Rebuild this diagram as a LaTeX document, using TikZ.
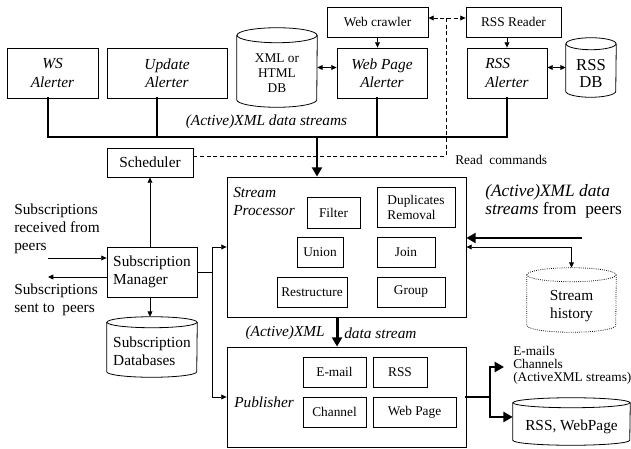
\documentclass[tikz,border=0pt]{standalone}
\usepackage{fontspec}
\setmainfont{Liberation Serif}
\usetikzlibrary{arrows.meta,calc}
\newcommand\fmain{\fontsize{11.5}{13.5}\selectfont}
\newcommand\fsml{\fontsize{10}{11.3}\selectfont}
\newcommand\fbig{\fontsize{13}{13.5}\selectfont}
\newcommand\cylo[4][]{%
  \draw[#1] ($(#2.north west)+(0,#4)$) -- ($(#2.south west)+(0,-#4)$)
     arc[start angle=180, end angle=0, x radius=#3, y radius=#4]
     -- ($(#2.north east)+(0,#4)$);
  \draw[#1] ($(#2.north)+(0,#4)$) ellipse[x radius=#3, y radius=#4];
}
\tikzset{
  sz/.style 2 args={minimum width=#1*0.75pt, minimum height=#2*0.75pt},
  box/.style={draw, line width=0.6pt, inner sep=1pt, align=center, font=\fmain},
  ibox/.style={box, font=\fsml},
  hold/.style={inner sep=0pt},
  lbl/.style={inner sep=0pt, align=left, font=\fmain},
  ln/.style={line width=0.6pt},
  arr/.style={ln, -{Triangle[length=4pt,width=3.6pt]}},
  darr/.style={ln, {Triangle[length=4pt,width=3.6pt]}-{Triangle[length=4pt,width=3.6pt]}},
  bus/.style={line width=2.2pt, line cap=rect},
  barr/.style={line width=2.2pt, -{Triangle[length=7pt,width=7.5pt]}},
  dsh/.style={ln, dash pattern=on 3pt off 2pt},
}
\begin{document}
\begin{tikzpicture}[x=0.75pt,y=-0.75pt]
\useasboundingbox (0,0) rectangle (631,449);
% ---------- top row
\node[box, sz={91}{50}] (ws) at (52.5,73) {\textit{WS}\\\textit{Alerter}};
\node[box, sz={120}{50}] (upd) at (167,73) {\textit{Update}\\\textit{Alerter}};
\node[hold, sz={80}{79}] (xdb) at (277,67.5) {};
\cylo[ln]{xdb}{40}{7.5}
\node[hold, align=center, font=\fsml] (xdbt) at (277,73) {XML or\\HTML\\DB};
\node[box, font=\fsml, sz={101}{30}] (crawl) at (377.5,22) {Web crawler};
\node[box, sz={90}{50}] (wpa) at (382,73) {\textit{Web Page}\\\textit{Alerter}};
\node[box, font=\fsml, sz={95}{30}] (rssr) at (513.5,22) {RSS Reader};
\node[box, sz={80}{50}, align=left] (rssa) at (507,73) {\textit{RSS}\\\textit{Alerter}};
\node[hold, sz={50}{59}] (rdb) at (591,67.5) {};
\cylo[ln]{rdb}{25}{6}
\node[hold, align=center, font=\fontsize{12.5}{13}\selectfont] (rdbt) at (591,73.5) {RSS\\DB};
\node[hold, font=\fmain\itshape] (busl) at (266.5,122) {(Active)XML data streams};
% ---------- middle
\node[box, sz={86}{29}] (sched) at (150,162.5) {Scheduler};
\node[hold, anchor=west, font=\fsml] (rc) at (455,160) {Read\ \ commands};
\node[box, sz={239}{140}] (sp) at (346.5,247) {};
\node[lbl, font=\fmain\itshape, anchor=west] (spl) at (233,201) {Stream\\Processor};
\node[ibox, sz={53}{31}] (filt) at (333.5,212.5) {Filter};
\node[ibox, sz={78}{40}, align=left] (dup) at (416,207) {Duplicates\\Removal};
\node[ibox, sz={46}{30}] (uni) at (320,252) {Union};
\node[ibox, sz={58}{30}] (join) at (406,252) {Join};
\node[ibox, sz={70}{30}] (restr) at (312,292) {Restructure};
\node[ibox, sz={68}{30}] (grp) at (411,292) {Group};
\node[lbl, font=\fbig, anchor=west] (peers) at (485,201) {\textit{(Active)XML data}\\\textit{streams} from\ \ peers};
\node[hold, sz={89}{64}] (sh) at (571.5,300) {};
\cylo[ln, densely dotted]{sh}{44.5}{7}
\node[hold, align=center, font=\fmain] (sht) at (571.5,306) {Stream\\history};
% ---------- left
\node[box, sz={90}{50}, align=left] (sm) at (152,272) {Subscription\\Manager};
\node[hold, sz={90}{60}] (sdb) at (152,347) {};
\cylo[ln]{sdb}{45}{5.5}
\node[hold, align=left, font=\fmain] (sdbt) at (152,351.5) {Subscription\\Databases};
\node[lbl, anchor=west] (recv) at (14,229) {Subscriptions\\received from\\peers};
\node[lbl, anchor=west] (sent) at (14,300) {Subscriptions\\sent to\ \ peers};
% ---------- bottom
\node[hold, font=\fmain\itshape, anchor=east] (axl) at (325,333) {(Active)XML};
\node[hold, font=\fmain\itshape, anchor=west] (dsl) at (344,333) {data stream};
\node[box, sz={239}{100}] (pub) at (346.5,397) {};
\node[lbl, font=\fmain\itshape, anchor=west] (publ) at (234,402) {Publisher};
\node[ibox, sz={63}{30}] (em) at (334.5,372) {E-mail};
\node[ibox, sz={54}{30}] (rss) at (400,372) {RSS};
\node[ibox, sz={63}{30}] (chan) at (334.5,412) {Channel};
\node[ibox, sz={83}{30}] (wp) at (414.5,412) {Web Page};
\node[hold, sz={117}{47}] (rw) at (571.5,421.5) {};
\cylo[ln]{rw}{58.5}{5}
\node[hold, font=\fmain] (rwt) at (571.5,427) {RSS, WebPage};
\node[lbl, font=\fontsize{10}{9.8}\selectfont, anchor=west] (outl) at (513,365) {E-mails\\Channels\\(ActiveXML streams)};
% ---------- connectors
\coordinate (busL) at (48,137);
\coordinate (busR) at (507,137);
\coordinate (busD) at (317,137);
\draw[bus] ([xshift=-3.4pt]ws.south) -- ([xshift=-3.4pt]ws.south |- busL) -- (busR) -- (rssa.south);
\draw[bus] ([xshift=-7.5pt]upd.south) -- ([xshift=-7.5pt]upd.south |- busL);
\draw[bus] ([xshift=-3.75pt]wpa.south) -- ([xshift=-3.75pt]wpa.south |- busL);
\draw[barr] (busD) -- (busD |- sp.north);
\coordinate (dtop) at (446,18);
\coordinate (dcorner) at (446,156);
\draw[dsh, {Triangle[length=4pt,width=3.6pt]}-{Triangle[length=4pt,width=3.6pt]}] (dtop -| crawl.east) -- (dtop -| rssr.west);
\draw[dsh] (dtop) -- (dcorner) -- (dcorner -| sched.east);
\draw[arr] (crawl.south) -- (crawl.south |- wpa.north);
\draw[arr] (rssa.north |- rssr.south) -- (rssa.north);
\draw[darr] (xdb.east) -- (xdb.east -| wpa.west);
\draw[darr] (rssa.east |- rdb.west) -- (rdb.west);
\coordinate (pin) at (582,238);
\draw[barr] (pin) -- (pin -| sp.east);
\draw[darr] (sp.east) -- (sp.east -| sh.north) -- (sh.north);
\coordinate (rcvs) at (48,258);
\coordinate (sente) at (48,277);
\draw[arr] (rcvs) -- (rcvs -| sm.west);
\draw[arr] (sente -| sm.west) -- (sente);
\draw[arr] (sched.south |- sm.north) -- (sched.south);
\draw[arr] (sched.south |- sm.south) -- (sched.south |- sdb.north);
\draw[arr] (sm.east) -- ++(15,0) |- (sp.west);
\draw[arr] (sm.east) -- ++(15,0) |- (pub.west);
\draw[barr] ([xshift=-7.1pt]sp.south) -- ([xshift=-7.1pt]sp.south |- pub.north);
\coordinate (oj) at (490,397);
\coordinate (oe) at (504,367);
\draw[bus] (pub.east) -- (oj);
\draw[barr] (oj) |- (oe);
\draw[barr] (oj) |- ([yshift=3.4pt]rw.west);
\end{tikzpicture}
\end{document}
